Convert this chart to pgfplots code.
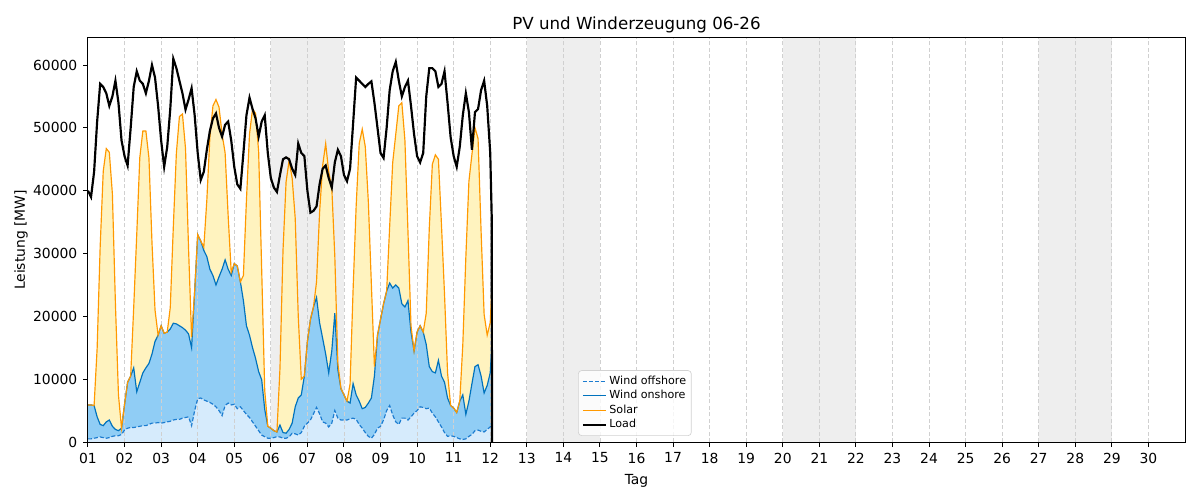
\documentclass[border=0pt]{standalone}
\usepackage{pgfplots}
\usepackage{pgfplotstable}
\pgfplotsset{compat=1.18}
\usepackage{fontspec}
\setmainfont{DejaVu Sans}

\definecolor{offFill}{RGB}{214,235,252}
\definecolor{onFill}{RGB}{144,205,245}
\definecolor{solFill}{RGB}{255,243,191}
\definecolor{offLine}{RGB}{28,124,208}
\definecolor{onLine}{RGB}{0,114,189}
\definecolor{solLine}{RGB}{255,153,0}
\definecolor{spanGray}{RGB}{238,238,238}
\definecolor{gridGray}{RGB}{208,208,208}

% t: day of month, off/on/sol: generation per source [MW], load [MW]
\pgfplotstableread{
t off on sol load
1.000 500 5400 0 40000
1.083 500 5400 0 39000
1.167 600 5200 0 43000
1.250 700 3300 10900 51000
1.333 800 2000 28300 57000
1.417 700 1900 40500 56500
1.500 600 2600 43500 55500
1.583 700 2800 42600 53500
1.667 900 1600 37000 55000
1.750 1000 1000 20000 57500
1.833 1000 800 5700 54000
1.917 1200 1000 0 48000
2.000 1900 4100 0 45500
2.083 2200 7300 0 44000
2.167 2300 8200 0 50000
2.250 2300 9500 9600 56500
2.333 2400 5600 25000 59000
2.417 2500 7000 35800 57500
2.500 2600 8400 38500 57000
2.583 2600 9200 37700 55500
2.667 2800 9700 32700 57500
2.750 3000 11000 17700 60000
2.833 3000 13000 5000 58000
2.917 3100 13900 0 53500
3.000 3000 15500 0 48000
3.083 3100 14200 0 43800
3.167 3200 14300 0 47000
3.250 3300 14700 3400 53000
3.333 3500 15400 15300 61000
3.417 3600 15200 27200 59500
3.500 3600 14900 33300 57500
3.583 3800 14400 34000 55500
3.667 3900 13900 28900 52900
3.750 4000 13200 13600 54500
3.833 2600 12400 1700 56300
3.917 5000 19000 0 52000
4.000 6900 26100 0 46000
4.083 7000 25000 0 41700
4.167 6700 23800 500 43000
4.250 6500 23000 9000 46500
4.333 6300 21200 21000 49500
4.417 6000 20500 27000 51500
4.500 5600 19400 29500 52300
4.583 5000 21300 27000 50000
4.667 4200 23300 21500 48600
4.750 5800 23200 17000 50500
4.833 6200 21300 8500 51000
4.917 5900 20600 500 48000
5.000 6000 22400 0 43800
5.083 5300 22700 0 41000
5.167 5600 19900 0 40300
5.250 5000 17500 4000 46000
5.333 4400 14100 20000 52000
5.417 3900 13100 32000 54800
5.500 3200 11800 38000 53000
5.583 2500 10800 39000 51500
5.667 1800 9400 35000 48600
5.750 1100 8800 17500 51000
5.833 850 4350 3000 52000
5.917 600 1900 0 46000
6.000 600 1600 0 42000
6.083 700 1100 0 40500
6.167 850 750 0 39800
6.250 800 1900 9000 42500
6.333 600 900 29000 45000
6.417 600 800 40000 45300
6.500 800 1200 42800 45000
6.583 1400 1600 39000 43500
6.667 1300 4300 30000 42500
6.750 1100 5900 13000 47500
6.833 1500 6000 2500 46000
6.917 2500 8000 0 45500
7.000 3000 13000 0 40000
7.083 3500 16000 0 36500
7.167 4500 17000 0 36800
7.250 5500 17500 2500 37500
7.333 4500 14500 17500 41000
7.417 3200 13300 27500 43500
7.500 3000 11000 33500 44000
7.583 2400 8600 32000 42000
7.667 3000 11500 26000 40500
7.750 5000 15500 9000 44500
7.833 3800 7700 1000 46500
7.917 3500 5000 0 45500
8.000 3500 4000 0 42500
8.083 3500 3000 0 41500
8.167 3700 2500 3000 43500
8.250 3800 5500 15000 50700
8.333 3600 3900 30000 58000
8.417 2800 3700 41000 57500
8.500 2200 3100 44500 57000
8.583 1500 4000 41500 56500
8.667 900 5300 32000 57000
8.750 600 6400 18000 57400
8.833 1200 9300 1500 54000
8.917 2200 14800 0 50000
9.000 2500 17000 0 46000
9.083 3500 18500 0 45200
9.167 5000 19000 0 50000
9.250 5800 19500 9000 56000
9.333 4300 20200 20000 59000
9.417 3200 21800 24000 60500
9.500 2800 21700 29000 57500
9.583 3800 18200 32000 55000
9.667 3800 17700 26500 56500
9.750 3500 19000 11000 57500
9.833 4000 13500 1000 53500
9.917 4600 9900 0 49000
10.000 5000 12500 0 45500
10.083 5600 12900 0 44500
10.167 5500 12000 0 46000
10.250 5300 10200 5000 55000
10.333 5400 6600 22000 59500
10.417 4600 6600 33000 59500
10.500 4000 7000 34700 59000
10.583 3200 9800 32000 56500
10.667 2400 8100 24000 57000
10.750 1500 8000 14000 59000
10.833 900 6100 4000 54000
10.917 1000 4800 0 48500
11.000 900 4500 0 45500
11.083 700 4000 0 43800
11.167 500 6000 0 47000
11.250 400 7100 8000 52000
11.333 500 3900 25000 55500
11.417 900 5600 35000 52500
11.500 1200 8100 36500 46500
11.583 1800 10200 38000 52500
11.667 1900 10400 36000 53000
11.750 1700 8800 23000 56000
11.833 1600 6200 12500 57500
11.917 2000 7000 8000 53500
12.000 2400 8600 8000 46000
12.040 3000 12000 9000 36000
12.050 3000 12000 9000 0
}\data

% stacked tops: offshore + onshore, then + solar
\pgfplotstablecreatecol[create col/expr={\thisrow{off}+\thisrow{on}}]{cOn}\data
\pgfplotstablecreatecol[create col/expr={\thisrow{cOn}+\thisrow{sol}}]{cSol}\data

\begin{document}
\begin{tikzpicture}
\path[use as bounding box] (-52.8pt,-34.8pt) rectangle (667.2pt,265.2pt);
\begin{axis}[
  scale only axis,
  width=658.2pt, height=242.4pt,
  at={(0,0)}, anchor=south west,
  xmin=1, xmax=31, ymin=0, ymax=64300,
  axis on top,
  axis line style={line width=0.6pt},
  tick style={line width=0.6pt, black},
  tick align=outside, tick pos=left,
  major tick length=2.9pt,
  xtick={1,...,30},
  xticklabels={01,02,03,04,05,06,07,08,09,10,11,12,13,14,15,16,17,18,19,20,21,22,23,24,25,26,27,28,29,30},
  ytick={0,10000,20000,30000,40000,50000,60000},
  scaled y ticks=false,
  yticklabel style={/pgf/number format/.cd, fixed, 1000 sep={}, assume math mode=true},
  font=\fontsize{8.33}{10}\selectfont,
  ticklabel style={font=\fontsize{8.33}{10}\selectfont},
  title={PV und Winderzeugung 06-26},
  title style={font=\fontsize{10}{12}\selectfont, yshift=-6.4pt},
  xlabel={Tag}, ylabel={Leistung [MW]},
  ylabel shift=-3.6pt,
  legend style={at={(0.4467,0.0149)}, anchor=south west,
    draw=gray!35, rounded corners=2pt, fill=white, fill opacity=0.8, text opacity=1,
    font=\fontsize{6.67}{8}\selectfont, inner sep=2pt, row sep=0pt,
    nodes={inner sep=1.1pt}},
  legend cell align=left,
  legend image code/.code={\draw[#1] (0cm,0cm) -- (0.5cm,0cm);},
]
% weekends
\addplot[fill=spanGray, draw=none, forget plot] coordinates {(6,0) (6,70000) (8,70000) (8,0)} \closedcycle;
\addplot[fill=spanGray, draw=none, forget plot] coordinates {(13,0) (13,70000) (15,70000) (15,0)} \closedcycle;
\addplot[fill=spanGray, draw=none, forget plot] coordinates {(20,0) (20,70000) (22,70000) (22,0)} \closedcycle;
\addplot[fill=spanGray, draw=none, forget plot] coordinates {(27,0) (27,70000) (29,70000) (29,0)} \closedcycle;

% stacked areas
\addplot[fill=solFill, draw=none, forget plot] table[x=t, y=cSol] {\data} \closedcycle;
\addplot[fill=onFill, draw=none, forget plot] table[x=t, y=cOn] {\data} \closedcycle;
\addplot[fill=offFill, draw=none, forget plot] table[x=t, y=off] {\data} \closedcycle;

% day grid
\pgfplotsinvokeforeach{2,...,30}{
  \addplot[gridGray, line width=0.5pt, dash pattern=on 2.4pt off 1.5pt, forget plot] coordinates {(#1,0) (#1,70000)};
}

\addplot[offLine, line width=0.7pt, dash pattern=on 2.4pt off 1.2pt] table[x=t, y=off] {\data};
\addlegendentry{Wind offshore}
\addplot[onLine, line width=0.7pt] table[x=t, y=cOn] {\data};
\addlegendentry{Wind onshore}
\addplot[solLine, line width=0.7pt] table[x=t, y=cSol] {\data};
\addlegendentry{Solar}
\addplot[black, line width=1.3pt] table[x=t, y=load] {\data};
\addlegendentry{Load}
\end{axis}
\end{tikzpicture}
\end{document}
